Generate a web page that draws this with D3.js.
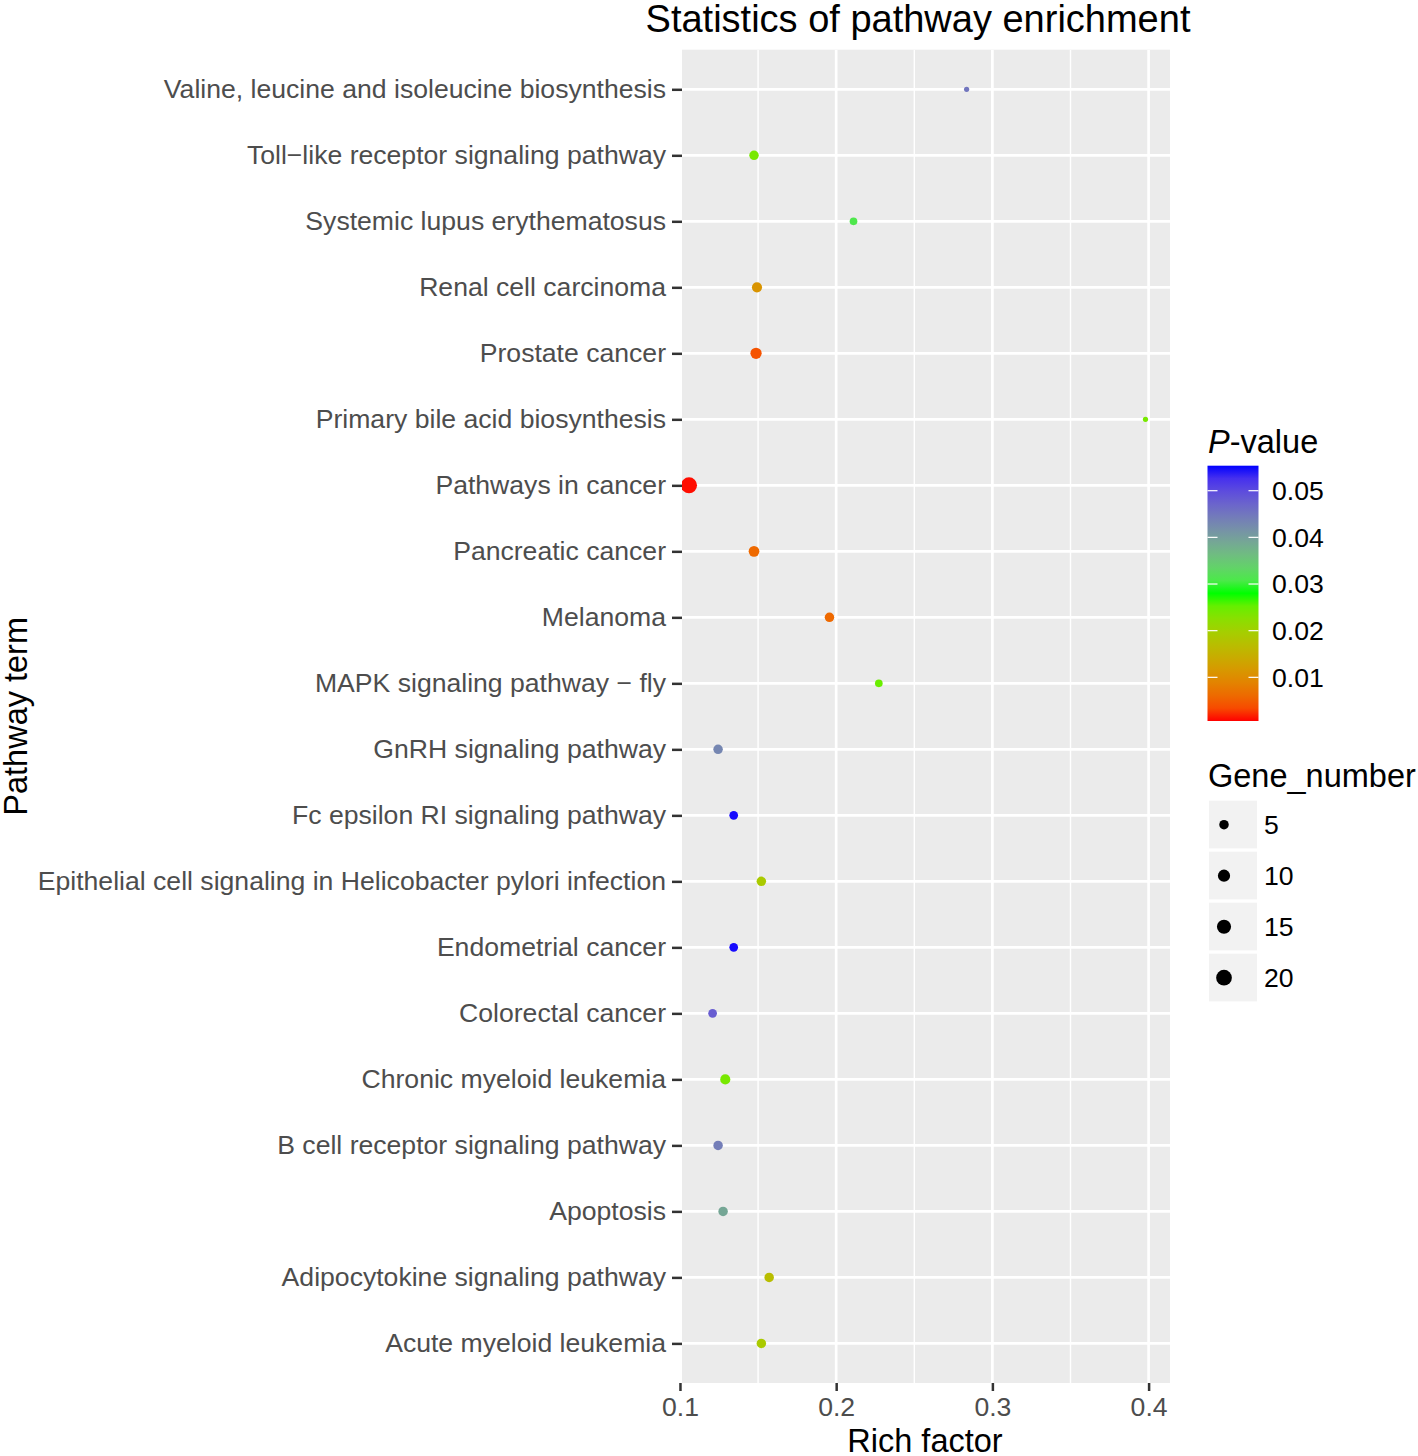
<!DOCTYPE html>
<html><head><meta charset="utf-8">
<script src="https://cdn.jsdelivr.net/npm/d3@7"></script>
<style>body{margin:0;background:#fff}svg{display:block;font-family:"Liberation Sans",Arial,sans-serif}</style>
</head><body><svg id="c" width="1418" height="1456"></svg>
<script>
const terms = ["Valine, leucine and isoleucine biosynthesis","Toll\u2212like receptor signaling pathway","Systemic lupus erythematosus","Renal cell carcinoma","Prostate cancer","Primary bile acid biosynthesis","Pathways in cancer","Pancreatic cancer","Melanoma","MAPK signaling pathway \u2212 fly","GnRH signaling pathway","Fc epsilon RI signaling pathway","Epithelial cell signaling in Helicobacter pylori infection","Endometrial cancer","Colorectal cancer","Chronic myeloid leukemia","B cell receptor signaling pathway","Apoptosis","Adipocytokine signaling pathway","Acute myeloid leukemia"];
const richFactor = [0.2835,0.1474,0.2111,0.1493,0.1487,0.398,0.1058,0.1474,0.1957,0.2273,0.1244,0.1344,0.1521,0.1344,0.1209,0.1290,0.1244,0.1276,0.1571,0.1521];
const pValue = [0.045,0.024,0.031,0.011,0.004,0.024,0.0008,0.006,0.006,0.025,0.043,0.055,0.019,0.055,0.048,0.024,0.044,0.039,0.017,0.019];
const geneNumber = [2,5,3,6,8,2,21,7,5,3,5,4,5,4,4,6,5,5,5,5];
const xTicks = [0.1,0.2,0.3,0.4];
const xMinor = [0.15,0.25,0.35];
const pTicks = [0.01,0.02,0.03,0.04,0.05];
const sizeBreaks = [5,10,15,20];

const svg = d3.select("#c");
const P = {l:682, r:1170, t:49.7, b:1383};
const x = d3.scaleLinear().domain([0.1013,0.4137]).range([P.l,P.r]);
const y = d3.scalePoint().domain(terms).range([P.t,P.b]).padding(0.6);
const pLo=0.00064, pHi=0.05536;
const color = d3.scaleLinear().domain([pLo,(pLo+pHi)/2,pHi]).range(["#ff0000","#00ff00","#0000ff"]).interpolate(d3.interpolateLab).clamp(true);
const gMin = d3.min(geneNumber), gMax = d3.max(geneNumber);
const rs = d3.scaleSqrt().domain([0,gMax-gMin]).range([2.6,8]);
const rad = v => rs(Math.max(0,v-gMin));

// panel
svg.append("rect").attr("x",P.l).attr("y",P.t).attr("width",P.r-P.l).attr("height",P.b-P.t).attr("fill","#ebebeb");
svg.append("clipPath").attr("id","pc").append("rect").attr("x",P.l).attr("y",P.t).attr("width",P.r-P.l).attr("height",P.b-P.t);
const g = svg.append("g").attr("clip-path","url(#pc)");
g.selectAll(".mi").data(xMinor).join("line").attr("x1",d=>x(d)).attr("x2",d=>x(d)).attr("y1",P.t).attr("y2",P.b).attr("stroke","#fff").attr("stroke-width",1.4);
g.selectAll(".ma").data(xTicks).join("line").attr("x1",d=>x(d)).attr("x2",d=>x(d)).attr("y1",P.t).attr("y2",P.b).attr("stroke","#fff").attr("stroke-width",2.7);
g.selectAll(".hy").data(terms).join("line").attr("x1",P.l).attr("x2",P.r).attr("y1",d=>y(d)).attr("y2",d=>y(d)).attr("stroke","#fff").attr("stroke-width",2.7);
g.selectAll("circle").data(terms).join("circle")
  .attr("cx",(d,i)=>x(richFactor[i])).attr("cy",d=>y(d)).attr("r",(d,i)=>rad(geneNumber[i]))
  .attr("fill",(d,i)=>color(pValue[i]));

const FF = "Liberation Sans, Arial, sans-serif";
// y axis
const ya = svg.append("g").attr("transform",`translate(${P.l},0)`).call(d3.axisLeft(y).tickSize(10).tickPadding(6));
ya.select(".domain").remove();
ya.selectAll(".tick line").attr("stroke","#333").attr("stroke-width",2.5);
ya.selectAll(".tick text").attr("fill","#4d4d4d").attr("font-size",26.6).attr("font-family",FF);
// x axis
const xa = svg.append("g").attr("transform",`translate(0,${P.b})`).call(d3.axisBottom(x).tickValues(xTicks).tickFormat(d3.format(".1f")).tickSize(8).tickPadding(6));
xa.select(".domain").remove();
xa.selectAll(".tick line").attr("stroke","#333").attr("stroke-width",2.5);
xa.selectAll(".tick text").attr("fill","#4d4d4d").attr("font-size",26.6).attr("font-family",FF);

// titles
svg.append("text").attr("x",918).attr("y",32).attr("text-anchor","middle").attr("font-size",38).attr("fill","#000").text("Statistics of pathway enrichment");
svg.append("text").attr("x",925).attr("y",1452).attr("text-anchor","middle").attr("font-size",32.5).attr("fill","#000").text("Rich factor");
svg.append("text").attr("transform",`translate(27,${(P.t+P.b)/2}) rotate(-90)`).attr("text-anchor","middle").attr("font-size",32.5).attr("fill","#000").text("Pathway term");

// colour legend
const cb = {x:1207.5, y:465.7, w:51, h:255.3};
const pScale = d3.scaleLinear().domain([pLo,pHi]).range([cb.y+cb.h, cb.y]);
const lg = svg.append("defs").append("linearGradient").attr("id","cg").attr("x1",0).attr("y1",1).attr("x2",0).attr("y2",0);
d3.range(0,1.0001,0.05).forEach(t=>lg.append("stop").attr("offset",t).attr("stop-color",color(pLo+t*(pHi-pLo))));
const lt = svg.append("text").attr("x",1208).attr("y",453).attr("font-size",32.5).attr("fill","#000");
lt.append("tspan").attr("font-style","italic").text("P");
lt.append("tspan").text("-value");
svg.append("rect").attr("x",cb.x).attr("y",cb.y).attr("width",cb.w).attr("height",cb.h).attr("fill","url(#cg)");
pTicks.forEach(v=>{
  const yy = pScale(v);
  svg.append("line").attr("x1",cb.x).attr("x2",cb.x+10).attr("y1",yy).attr("y2",yy).attr("stroke","#fff").attr("stroke-width",1.2);
  svg.append("line").attr("x1",cb.x+cb.w-10).attr("x2",cb.x+cb.w).attr("y1",yy).attr("y2",yy).attr("stroke","#fff").attr("stroke-width",1.2);
  svg.append("text").attr("x",1272).attr("y",yy).attr("dy","0.35em").attr("font-size",26.6).attr("fill","#000").text(d3.format(".2f")(v));
});

// size legend
svg.append("text").attr("x",1208).attr("y",787).attr("font-size",32.5).attr("fill","#000").text("Gene_number");
const sl = svg.append("g").selectAll("g").data(sizeBreaks).join("g").attr("transform",(d,i)=>`translate(0,${800.7+i*51})`);
sl.append("rect").attr("x",1209).attr("y",0).attr("width",48).attr("height",47.7).attr("fill","#f2f2f2");
sl.append("circle").attr("cx",1224).attr("cy",24).attr("r",d=>rad(d)).attr("fill","#000");
sl.append("text").attr("x",1264).attr("y",24).attr("dy","0.35em").attr("font-size",26.6).attr("fill","#000").text(d=>d);
</script></body></html>
